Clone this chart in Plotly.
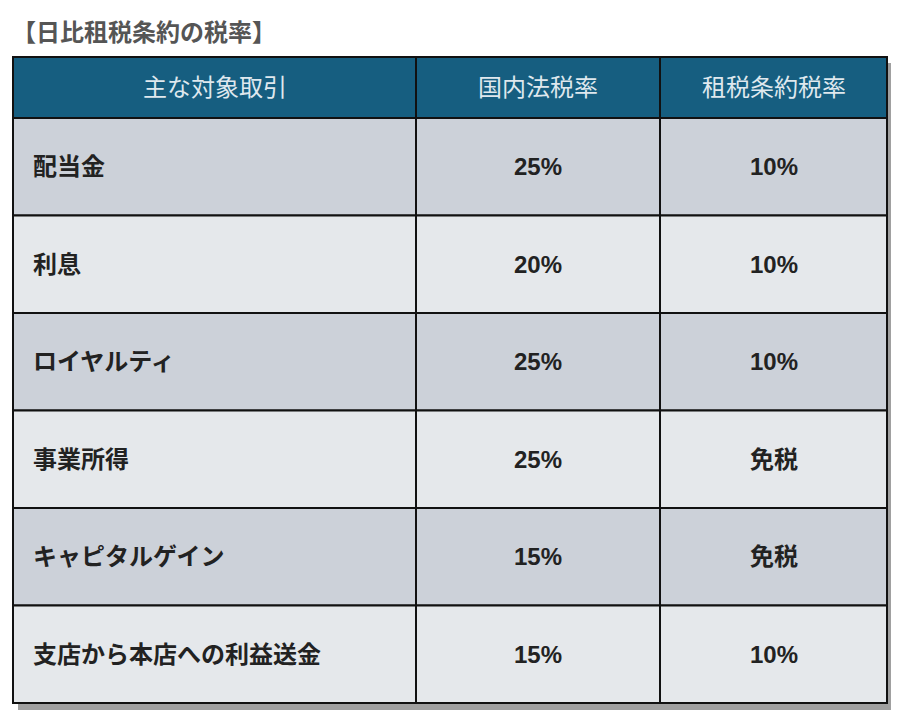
import plotly.graph_objects as go

W, H = 899, 712

headers = ["主な対象取引", "国内法税率", "租税条約税率"]
items = ["配当金", "利息", "ロイヤルティ", "事業所得", "キャピタルゲイン", "支店から本店への利益送金"]
domestic = ["25%", "20%", "25%", "25%", "15%", "15%"]
treaty = ["10%", "10%", "10%", "免税", "免税", "10%"]

col_edges = [5, 408, 652, 879]
header_top, header_bot = 49, 110
row_h = (695 - header_bot) / len(items)
FONT = "Liberation Sans, Noto Sans CJK JP"

fig = go.Figure()
shapes, notes = [], []

# shadow
shapes.append(dict(type="rect", x0=col_edges[0] + 5, x1=col_edges[-1] + 6,
                   y0=header_top + 6, y1=695 + 7, fillcolor="#a0a0a0", line=dict(width=0)))

def cell(xa, xb, ya, yb, fill):
    shapes.append(dict(type="rect", x0=xa, x1=xb, y0=ya, y1=yb, fillcolor=fill,
                       line=dict(color="#111", width=2)))

for c, h in enumerate(headers):
    xa, xb = col_edges[c], col_edges[c + 1]
    cell(xa, xb, header_top, header_bot, "#165e80")
    notes.append(dict(x=(xa + xb) / 2, y=(header_top + header_bot) / 2, text=h,
                      font=dict(size=24, color="#dfe8ee", family=FONT), xanchor="center"))

columns = [items, domestic, treaty]
for r in range(len(items)):
    ya = header_bot + r * row_h
    yb = ya + row_h
    fill = "#ccd1d9" if r % 2 == 0 else "#e5e8eb"
    for c in range(3):
        xa, xb = col_edges[c], col_edges[c + 1]
        cell(xa, xb, ya, yb, fill)
        if c == 0:
            notes.append(dict(x=xa + 18, y=(ya + yb) / 2, text="<b>" + columns[c][r] + "</b>",
                              font=dict(size=24, color="#222", family=FONT), xanchor="left"))
        else:
            notes.append(dict(x=(xa + xb) / 2, y=(ya + yb) / 2, text="<b>" + columns[c][r] + "</b>",
                              font=dict(size=24, color="#222", family=FONT), xanchor="center"))

notes.append(dict(x=2, y=22, text="<b>【日比租税条約の税率】</b>", xanchor="left",
                  font=dict(size=24, color="#555", family="Noto Sans CJK JP")))

for n in notes:
    n.update(xref="x", yref="y", yanchor="middle", showarrow=False)
for s in shapes:
    s.update(xref="x", yref="y")

fig.update_layout(width=W, height=H, margin=dict(l=0, r=0, t=0, b=0),
                  paper_bgcolor="white", plot_bgcolor="white",
                  shapes=shapes, annotations=notes,
                  xaxis=dict(range=[0, W], visible=False, fixedrange=True),
                  yaxis=dict(range=[H, 0], visible=False, fixedrange=True))

fig.write_html("out.html")
